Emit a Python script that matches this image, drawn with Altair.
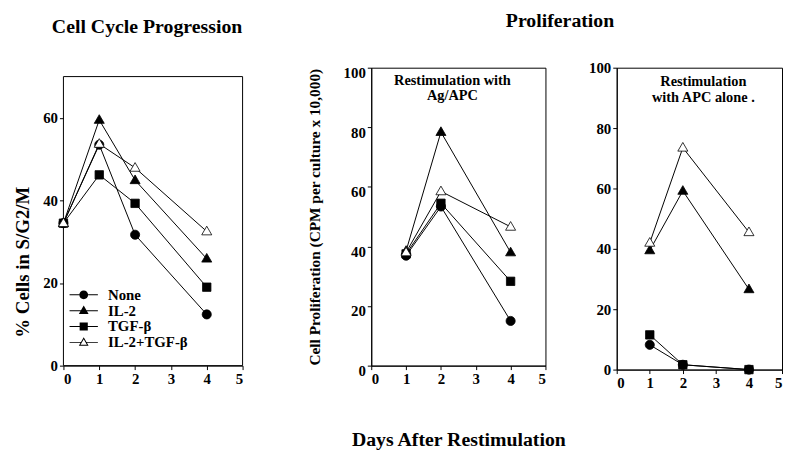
import altair as alt
import pandas as pd

SERIES = ["None", "IL-2", "TGF-β", "IL-2+TGF-β"]

# Panel 1: cell cycle progression (% cells in S/G2/M)
cycle_days = [0, 1, 2, 4]
cycle_none = [34.5, 53.5, 31.7, 12.4]
cycle_il2 = [34.5, 59.5, 44.9, 25.9]
cycle_tgf = [34.5, 46.2, 39.3, 19.0]
cycle_both = [34.5, 53.7, 47.9, 32.5]

# Panel 2: proliferation, restimulation with Ag/APC
prolif_days = [1, 2, 4]
agapc_none = [36.9, 53.4, 15.0]
agapc_il2 = [38.5, 78.4, 38.0]
agapc_tgf = [37.5, 54.5, 28.3]
agapc_both = [38.0, 58.5, 46.6]

# Panel 3: proliferation, restimulation with APC alone
apc_none = [8.2, 1.6, 0.0]
apc_il2 = [39.5, 59.2, 26.6]
apc_tgf = [11.5, 1.6, 0.0]
apc_both = [42.0, 73.5, 45.5]

x_ticks = [0, 1, 2, 3, 4, 5]
cycle_ticks = [0, 20, 40, 60]
cycle_top = 70
prolif_ticks = [0, 20, 40, 60, 80, 100]

FONT = "Liberation Serif"
DRAW_RANK = {"TGF-β": 0, "IL-2": 1, "None": 2, "IL-2+TGF-β": 3}

TRI = "M0,-1.15L1.1,0.75L-1.1,0.75Z"
POINT_SHAPES = [
    "M-1,0A1,1 0 1,0 1,0A1,1 0 1,0 -1,0Z",
    TRI,
    "M-0.92,-0.92H0.92V0.92H-0.92Z",
    TRI,
]


def stubs(inner, y=0.0):
    h = 0.11
    return (f"M-3.2,{y - h}H{-inner}V{y + h}H-3.2Z"
            f"M{inner},{y - h}H3.2V{y + h}H{inner}Z")


LEGEND_SHAPES = [
    stubs(1) + "M-1,0A1,1 0 1,0 1,0A1,1 0 1,0 -1,0Z",
    stubs(0.6) + TRI,
    stubs(0.92) + "M-0.92,-0.92H0.92V0.92H-0.92Z",
    stubs(0.62) + TRI + "M0,-0.72L-0.72,0.53L0.72,0.53Z",
]
FILLS = ["black", "black", "black", "white"]


def frame(days, groups):
    rows = []
    for s, vals in zip(SERIES, groups):
        for d, v in zip(days, vals):
            rows.append({"day": d, "value": v, "series": s, "rank": DRAW_RANK[s]})
    return pd.DataFrame(rows)


df1 = frame(cycle_days, [cycle_none, cycle_il2, cycle_tgf, cycle_both])
df2 = frame(prolif_days, [agapc_none, agapc_il2, agapc_tgf, agapc_both])
df3 = frame(prolif_days, [apc_none, apc_il2, apc_tgf, apc_both])


def panel(df, width, height, ydom, yticks, ytitle=None, xtitle=None, y_extra=None,
          x_extra=None, legend=False, notes=None, title=None, box_top=None):
    x_axis = dict(values=x_ticks, format="d", title=xtitle)
    if x_extra:
        x_axis.update(x_extra)
    y_axis = dict(values=yticks, format="d", title=ytitle)
    if y_extra:
        y_axis.update(y_extra)
    xs = alt.Scale(domain=[0, 5], nice=False)
    ys = alt.Scale(domain=ydom, nice=False)
    x = alt.X("day:Q", scale=xs, axis=alt.Axis(**x_axis))
    y = alt.Y("value:Q", scale=ys, axis=alt.Axis(**y_axis))

    def xd(v):
        return alt.XDatum(v, type="quantitative", scale=xs, axis=alt.Axis(**x_axis))

    def yd(v):
        return alt.YDatum(v, type="quantitative", scale=ys, axis=alt.Axis(**y_axis))

    base = alt.Chart(df)
    layers = []
    if box_top is not None:
        box = alt.Chart(pd.DataFrame({"k": [0]})).mark_rect(
            fill="transparent", stroke="black", strokeWidth=1).encode(
            x=xd(0), x2=alt.X2Datum(5), y=yd(0), y2=alt.Y2Datum(box_top))
        layers.append(box)
    lines = base.mark_line(color="black", strokeWidth=1).encode(
        x=x, y=y, detail="series:N", order="day:Q")
    pts = base.mark_point(filled=True, opacity=1, size=85, stroke="black", strokeWidth=0.8).encode(
        x=x, y=y,
        shape=alt.Shape("series:N", scale=alt.Scale(domain=SERIES, range=POINT_SHAPES), legend=None),
        fill=alt.Fill("series:N", scale=alt.Scale(domain=SERIES, range=FILLS), legend=None),
        order=alt.Order("rank:Q"),
    )
    layers += [lines, pts]
    if legend:
        leg = base.mark_point(filled=True, opacity=0, size=80, color="black").encode(
            x=x, y=y,
            shape=alt.Shape("series:N", scale=alt.Scale(domain=SERIES, range=LEGEND_SHAPES),
                            legend=alt.Legend(title=None, orient="none", legendX=3, legendY=222,
                                              labelFont=FONT, labelFontSize=15, labelFontWeight="bold",
                                              labelColor="black", symbolSize=80, symbolOpacity=1,
                                              symbolFillColor="black", symbolStrokeWidth=0,
                                              labelOffset=17, rowPadding=-4, symbolOffset=10)),
        )
        layers.append(leg)
    if notes:
        txt, nx, ny = notes
        note = alt.Chart(pd.DataFrame({"k": [0]})).mark_text(
            font=FONT, fontSize=14.5, fontWeight="bold", color="black", baseline="top",
            align="center", lineHeight=16).encode(
            x=xd(nx), y=yd(ny), text=alt.value(txt))
        layers.append(note)
    ch = alt.layer(*layers)
    if legend:
        ch = ch.resolve_scale(shape="independent")
    props = dict(width=width, height=height)
    if title:
        props["title"] = title
    if box_top is not None:
        props["view"] = alt.ViewBackground(stroke="transparent")
    return ch.properties(**props)


p1 = panel(df1, 181, 301, [0, 72.15], cycle_ticks, ytitle="% Cells in S/G2/M",
           y_extra=dict(titleFontSize=19, titlePadding=10, titleY=196, domain=False),
           legend=True, box_top=cycle_top,
           title=alt.TitleParams("Cell Cycle Progression", fontSize=20, font=FONT,
                                 fontWeight="bold", offset=31, dx=-6))
p2 = panel(df2, 176, 301, [0, 100], prolif_ticks,
           ytitle="Cell Proliferation (CPM per culture x 10,000)",
           xtitle="Days After Restimulation",
           y_extra=dict(titleFontSize=15.5, titlePadding=21, labelOffset=5),
           x_extra=dict(titleFontSize=20, titlePadding=44),
           notes=(["Restimulation with", "Ag/APC"], 2.33, 98.0))
p3 = panel(df3, 167, 305, [0, 100], prolif_ticks,
           notes=(["Restimulation", "with APC alone ."], 2.62, 97.6))

inner = alt.hconcat(p2, p3, spacing=21).properties(
    title=alt.TitleParams("Proliferation", fontSize=20, font=FONT, fontWeight="bold",
                          anchor="start", frame="group", dx=136, offset=30))
chart = alt.hconcat(p1, inner, spacing=64).properties(
    padding={"left": 5, "top": 0, "right": 0, "bottom": 5},
).configure_view(stroke="black", strokeWidth=1).configure_axis(
    labelFont=FONT, labelFontSize=15, labelFontWeight="bold", labelColor="black",
    titleFont=FONT, titleFontWeight="bold", titleColor="black", labelOverlap=False,
    grid=False, domainColor="black", tickColor="black", tickSize=4, labelPadding=2,
)

chart.save("out.html", embed_options={"renderer": "svg", "actions": False})
